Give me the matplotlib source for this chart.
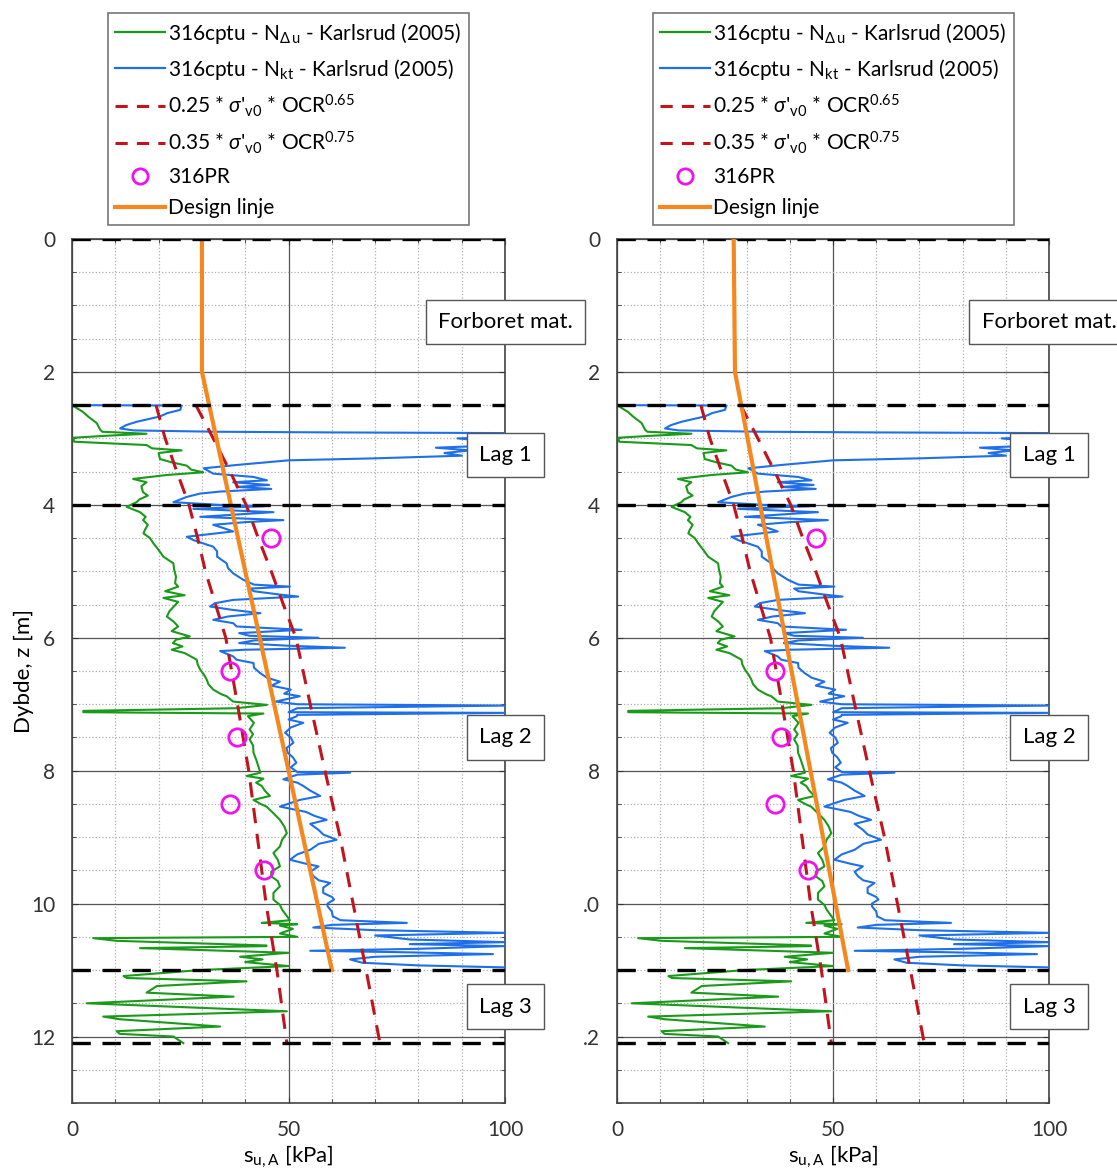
import numpy as np
import matplotlib.pyplot as plt
from matplotlib.lines import Line2D

plt.rcParams['font.family'] = ['Lato', 'DejaVu Sans']
plt.rcParams['mathtext.fontset'] = 'custom'
plt.rcParams['mathtext.rm'] = 'Lato'
plt.rcParams['mathtext.it'] = 'Lato:italic'
plt.rcParams['mathtext.bf'] = 'Lato:bold'

# layer boundaries and labels [m]
layer_z = [0, 2.5, 4, 11, 12.1]
layer_names = ['Forboret mat.', 'Lag 1', 'Lag 2', 'Lag 3']
layer_label_z = [1.25, 3.25, 7.5, 11.55]

# 316cptu - N_delta_u (depth, su)
green_z = [2.50, 2.60, 2.67, 2.77, 2.87, 2.90, 2.93, 2.96, 2.99, 3.05, 3.10, 3.15, 3.18, 3.22,
           3.31, 3.36, 3.41, 3.47, 3.51, 3.55, 3.61, 3.66, 3.72, 3.81, 3.86, 3.92, 3.96, 4.03,
           4.11, 4.18, 4.23, 4.30, 4.38, 4.43, 4.50, 4.58, 4.68, 4.78, 4.88, 4.98, 5.08, 5.18,
           5.23, 5.30, 5.36, 5.40, 5.46, 5.53, 5.60, 5.68, 5.76, 5.83, 5.90, 5.98, 6.03, 6.08,
           6.13, 6.18, 6.23, 6.33, 6.40, 6.48, 6.56, 6.63, 6.70, 6.78, 6.85, 6.88, 6.96, 7.01,
           7.06, 7.10, 7.12, 7.14, 7.18, 7.28, 7.38, 7.45, 7.53, 7.62, 7.73, 7.83, 7.93, 8.03,
           8.08, 8.12, 8.18, 8.23, 8.30, 8.38, 8.44, 8.50, 8.54, 8.64, 8.74, 8.84, 8.94, 9.04,
           9.14, 9.24, 9.34, 9.44, 9.52, 9.59, 9.66, 9.74, 9.84, 9.94, 10.02, 10.09, 10.18, 10.25,
           10.29, 10.31, 10.33, 10.38, 10.45, 10.50, 10.52, 10.56, 10.63, 10.64, 10.67, 10.74,
           10.80, 10.84, 10.88, 10.94, 11.00, 11.09, 11.12, 11.17, 11.24, 11.34, 11.40, 11.50,
           11.62, 11.70, 11.74, 11.85, 11.92, 11.96, 12.00, 12.10]
green_su = [0.0, 2.5, 3.7, 5.7, 6.5, 7.0, 17.2, 8.0, 0.3, 0.5, 17.2, 18.5, 25.3, 20.0,
            20.3, 23.0, 26.5, 27.5, 30.3, 22.0, 14.1, 17.2, 16.0, 16.4, 17.5, 15.5, 14.9, 12.6,
            15.7, 17.0, 16.4, 17.5, 16.8, 16.5, 18.0, 18.8, 20.0, 21.1, 23.4, 23.6, 24.0, 23.8,
            24.5, 21.5, 26.0, 21.1, 24.5, 23.5, 22.5, 21.9, 23.5, 24.5, 23.0, 27.2, 24.0, 23.3,
            25.5, 23.0, 26.0, 28.8, 29.0, 29.6, 30.5, 31.1, 31.5, 32.6, 34.5, 35.7, 37.2, 45.0,
            38.0, 2.6, 2.6, 44.2, 40.6, 42.0, 41.0, 41.8, 41.0, 41.8, 41.9, 42.5, 43.0, 43.5,
            40.3, 44.2, 42.5, 43.8, 44.5, 45.7, 41.9, 43.5, 44.9, 46.5, 48.0, 49.0, 49.6, 48.5,
            48.0, 46.5, 47.5, 48.0, 46.0, 46.0, 47.5, 48.0, 46.5, 46.5, 48.0, 48.5, 49.5, 50.3,
            43.8, 52.0, 48.0, 51.0, 48.0, 52.0, 4.9, 10.3, 44.9, 44.9, 15.7, 50.0,
            38.8, 44.0, 40.0, 50.0, 29.6, 11.9, 12.7, 40.3, 19.6, 17.2, 37.3, 3.4,
            49.6, 7.2, 11.0, 34.2, 10.3, 11.0, 23.4, 25.7]

# 316cptu - N_kt (depth, su)
blue_z = [2.50, 2.505, 2.57, 2.62, 2.67, 2.75, 2.80, 2.85, 2.88, 2.90, 2.91, 2.92, 2.98, 3.00,
          3.04, 3.10, 3.14, 3.18, 3.22, 3.26, 3.30, 3.33, 3.40, 3.45, 3.53, 3.58, 3.63, 3.66,
          3.70, 3.73, 3.76, 3.80, 3.83, 3.88, 3.96, 4.00, 4.02, 4.06, 4.11, 4.18, 4.23, 4.26,
          4.30, 4.35, 4.40, 4.48, 4.53, 4.63, 4.70, 4.78, 4.88, 4.95, 5.03, 5.13, 5.20, 5.23,
          5.26, 5.30, 5.35, 5.38, 5.43, 5.48, 5.53, 5.58, 5.63, 5.68, 5.73, 5.78, 5.83, 5.88,
          5.93, 5.97, 6.00, 6.04, 6.08, 6.12, 6.15, 6.18, 6.20, 6.28, 6.33, 6.38, 6.45, 6.53,
          6.60, 6.66, 6.72, 6.78, 6.84, 6.88, 6.96, 7.00, 7.02, 7.06, 7.12, 7.13, 7.16, 7.18,
          7.23, 7.28, 7.35, 7.43, 7.50, 7.58, 7.66, 7.73, 7.80, 7.88, 7.95, 8.02, 8.03, 8.06,
          8.13, 8.18, 8.23, 8.30, 8.38, 8.44, 8.54, 8.62, 8.68, 8.74, 8.80, 8.89, 8.96, 9.04,
          9.10, 9.19, 9.26, 9.34, 9.40, 9.44, 9.52, 9.59, 9.65, 9.69, 9.76, 9.84, 9.90, 9.94,
          10.00, 10.04, 10.12, 10.19, 10.25, 10.29, 10.32, 10.36, 10.40, 10.44, 10.48, 10.54,
          10.58, 10.61, 10.64, 10.68, 10.71, 10.73, 10.76, 10.80, 10.84, 10.89, 10.93, 10.96,
          10.99]
blue_su = [0.0, 25.3, 25.0, 22.0, 20.3, 14.9, 12.5, 11.1, 14.2, 33.4, 60.0, 100, 100, 89,
           96, 100, 84, 92, 86, 90, 70, 50, 38, 30.4, 32.6, 41.9, 45.0, 37.2,
           45.5, 38.0, 46.0, 34.2, 29.6, 26.5, 23.4, 34.0, 44.5, 28.0, 46.5, 29.6, 48.8, 40.0,
           32.6, 35.0, 37.2, 26.5, 28.0, 32.6, 33.5, 33.5, 35.7, 36.0, 37.2, 39.6, 42.0, 50.3,
           41.0, 42.0, 48.0, 52.2, 37.2, 33.0, 31.9, 37.0, 43.5, 36.0, 32.6, 37.2, 38.0, 53.0,
           38.6, 41.0, 56.9, 42.0, 38.6, 50.0, 63.0, 40.0, 34.2, 37.2, 38.0, 41.9, 42.0, 43.4,
           45.0, 48.0, 46.0, 50.5, 49.0, 52.6, 47.0, 52.0, 100, 52.0, 50.0, 100, 52.0, 51.9,
           50.0, 53.4, 50.5, 49.2, 50.5, 51.1, 49.5, 49.8, 51.0, 51.8, 50.5, 52.0, 64.2, 52.0,
           48.8, 52.0, 53.4, 55.0, 57.3, 52.6, 48.0, 54.0, 56.0, 58.8, 55.0, 56.9, 58.0, 61.1,
           57.0, 55.0, 52.0, 50.3, 54.0, 56.9, 55.0, 55.8, 57.0, 59.6, 58.0, 58.0, 60.0, 60.5,
           59.0, 59.0, 60.0, 60.2, 62.0, 77.3, 60.0, 55.7, 70.0, 100, 70.0, 78.0,
           100, 78.0, 100, 80.0, 55.0, 75.0, 97.2, 70.0, 64.2, 67.0, 80.0, 100,
           100]

# 0.25 * sigma'v0 * OCR^0.65
red1_z = [2.5, 3.0, 3.5, 4.0, 4.5, 5.0, 6.0, 7.0, 8.0, 9.0, 10.0, 11.0, 12.1]
red1_su = [19.4, 21.5, 24.2, 27.0, 29.0, 30.8, 35.5, 38.2, 40.8, 42.8, 44.8, 47.3, 49.6]
# 0.35 * sigma'v0 * OCR^0.75
red2_z = [2.5, 3.0, 3.5, 4.0, 4.5, 5.0, 5.5, 6.0, 7.0, 8.0, 9.0, 10.0, 11.0, 12.1]
red2_su = [28.6, 32.6, 36.5, 40.2, 43.0, 46.0, 48.8, 51.7, 55.0, 58.4, 61.9, 64.9, 67.9, 71.1]

# 316PR
pr_z = [4.5, 6.5, 7.5, 8.5, 9.5]
pr_su = [46.0, 36.5, 38.0, 36.5, 44.3]

# design lines (left, right)
design_z = [0, 2, 11]
design_left = [30, 30, 60]
design_right = [27, 27.3, 53.5]

ytick_left = ['0', '2', '4', '6', '8', '10', '12']
ytick_right = ['0', '2', '4', '6', '8', '.0', '.2']

c_green = '#1a9a1a'
c_blue = '#1f6fe8'
c_red = '#c0141e'
c_orange = '#f5871f'
c_pink = '#f010f0'


def draw_panel(ax, design_su, ylabels, show_ylabel):
    ax.plot(green_su, green_z, color=c_green, lw=1.5, zorder=3)
    ax.plot(blue_su, blue_z, color=c_blue, lw=1.5, zorder=3)
    ax.plot(red1_su, red1_z, color=c_red, lw=2.2, dashes=(5, 3.5), zorder=4)
    ax.plot(red2_su, red2_z, color=c_red, lw=2.2, dashes=(5, 3.5), zorder=4)
    ax.plot(design_su, design_z, color=c_orange, lw=3, zorder=5)
    ax.plot(pr_su, pr_z, 'o', ms=12.5, mfc='none', mec=c_pink, mew=2, zorder=6)
    for z in layer_z:
        ax.plot([0, 100], [z, z], color='black', lw=2.4, dashes=(5.5, 3.5), zorder=7)

    for name, z in zip(layer_names, layer_label_z):
        ax.text(100, z, name, ha='center', va='center', fontsize=16, zorder=10,
                clip_on=False,
                bbox=dict(boxstyle='square,pad=0.55', fc='white', ec='#555555', lw=1))

    ax.set_xlim(0, 100)
    ax.set_ylim(13, 0)
    ax.set_xticks([0, 50, 100])
    ax.set_xticks(np.arange(0, 101, 10), minor=True)
    ax.set_yticks(np.arange(0, 13, 2))
    ax.set_yticklabels(ylabels)
    ax.set_yticks(np.arange(0, 13.01, 0.5), minor=True)
    ax.grid(which='major', color='#555555', lw=0.9, ls='-')
    ax.grid(which='minor', color='#b0b0b0', lw=0.9, ls=':')
    ax.tick_params(which='both', direction='in', top=True, right=True,
                   labelsize=15, pad=12, colors='#333333')
    ax.tick_params(which='major', length=4)
    ax.tick_params(which='minor', length=3)
    for s in ax.spines.values():
        s.set_color('#444444')
        s.set_linewidth(1.2)
    ax.set_xlabel(r'$\mathregular{s_{u,A}}$ [kPa]', fontsize=16, labelpad=3)
    if show_ylabel:
        ax.set_ylabel('Dybde, z [m]', fontsize=16, labelpad=-2)

    handles = [
        Line2D([], [], color=c_green, lw=1.6),
        Line2D([], [], color=c_blue, lw=1.6),
        Line2D([], [], color=c_red, lw=2.2, dashes=(4, 3)),
        Line2D([], [], color=c_red, lw=2.2, dashes=(4, 3)),
        Line2D([], [], ls='none', marker='o', ms=11, mfc='none', mec=c_pink, mew=2),
        Line2D([], [], color=c_orange, lw=3),
    ]
    labels = [
        r'316cptu - N$_{\Delta\,\mathrm{u}}$ - Karlsrud (2005)',
        r'316cptu - N$_{\mathrm{kt}}$ - Karlsrud (2005)',
        r"0.25 * $\sigma$'$_{\mathrm{v0}}$ * OCR$^{0.65}$",
        r"0.35 * $\sigma$'$_{\mathrm{v0}}$ * OCR$^{0.75}$",
        '316PR',
        'Design linje',
    ]
    leg = ax.legend(handles, labels, loc='lower center', bbox_to_anchor=(0.5, 1.016),
                    borderaxespad=0, fontsize=15, frameon=True, fancybox=False,
                    edgecolor='#555555', handlelength=2.4, handletextpad=0.15,
                    labelspacing=0.52, borderpad=0.35)
    leg.get_frame().set_linewidth(1.2)


fig = plt.figure(figsize=(11.17, 11.74), dpi=100)
ax1 = fig.add_axes([0.0645, 0.0605, 0.3877, 0.7359])
ax2 = fig.add_axes([0.5524, 0.0605, 0.3868, 0.7359])

draw_panel(ax1, design_left, ytick_left, True)
draw_panel(ax2, design_right, ytick_right, False)

fig.savefig('out.png', dpi=100)
